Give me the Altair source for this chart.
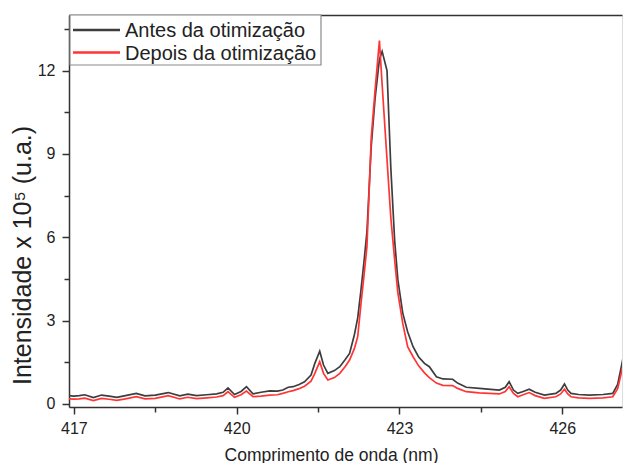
import altair as alt
import pandas as pd

wavelength = [416.9, 417.0, 417.1, 417.2, 417.36, 417.51, 417.65, 417.79, 417.95, 418.15,
              418.31, 418.5, 418.74, 418.95, 419.1, 419.26, 419.45, 419.63, 419.75, 419.84,
              419.96, 420.08, 420.18, 420.3, 420.45, 420.61, 420.75, 420.85, 420.95, 421.04,
              421.15, 421.25, 421.37, 421.44, 421.53, 421.6, 421.68, 421.8, 421.9, 422.0,
              422.08, 422.17, 422.23, 422.29, 422.35, 422.4, 422.48, 422.55, 422.63, 422.68,
              422.77, 422.84, 422.91, 422.97, 423.06, 423.15, 423.25, 423.35, 423.46, 423.55,
              423.68, 423.8, 423.98, 424.07, 424.23, 424.47, 424.84, 424.95, 425.02, 425.1,
              425.18, 425.28, 425.39, 425.5, 425.67, 425.88, 425.97, 426.04, 426.1, 426.16,
              426.3, 426.5, 426.75, 426.93, 427.02, 427.1, 427.2]

antes = [0.3, 0.28, 0.3, 0.33, 0.23, 0.32, 0.28, 0.24, 0.3, 0.38,
         0.29, 0.32, 0.41, 0.29, 0.35, 0.3, 0.33, 0.36, 0.42, 0.58,
         0.34, 0.45, 0.62, 0.36, 0.42, 0.47, 0.46, 0.5, 0.6, 0.62,
         0.7, 0.8, 1.04, 1.46, 1.9, 1.4, 1.1, 1.2, 1.34, 1.6,
         1.82, 2.5, 3.1, 4.1, 5.2, 6.2, 9.3, 11.0, 12.4, 12.69,
         12.0, 8.5, 5.9, 4.47, 3.27, 2.6, 2.06, 1.7, 1.46, 1.34,
         0.98, 0.9, 0.89, 0.75, 0.6, 0.56, 0.5, 0.6, 0.8, 0.5,
         0.38, 0.45, 0.53, 0.42, 0.32, 0.38, 0.5, 0.72, 0.5, 0.38,
         0.34, 0.32, 0.34, 0.38, 0.7, 1.46, 2.5]

depois = [0.18, 0.17, 0.18, 0.21, 0.12, 0.2, 0.17, 0.13, 0.18, 0.26,
          0.18, 0.2, 0.3, 0.18, 0.24, 0.19, 0.22, 0.25, 0.3, 0.44,
          0.24, 0.33, 0.46, 0.26, 0.28, 0.32, 0.33, 0.38, 0.44, 0.48,
          0.55, 0.64, 0.82, 1.1, 1.52, 1.1, 0.86, 0.95, 1.1, 1.35,
          1.58, 2.0, 2.42, 3.6, 4.7, 5.66, 9.6, 11.3, 13.08, 11.5,
          8.8, 6.7, 5.2, 4.0, 2.9, 2.06, 1.7, 1.38, 1.12, 0.95,
          0.75, 0.67, 0.66, 0.56, 0.44, 0.4, 0.36, 0.45, 0.62, 0.38,
          0.26, 0.33, 0.41, 0.3, 0.2, 0.26, 0.36, 0.53, 0.36, 0.26,
          0.22, 0.2, 0.22, 0.26, 0.55, 1.22, 2.2]

series_names = ["Antes da otimização", "Depois da otimização"]
series_colors = ["#3d3d3d", "#ff3535"]

x_major = [417, 420, 423, 426]
x_minor = [418.5, 421.5, 424.5]
y_major = [0, 3, 6, 9, 12]
y_minor = [1.5, 4.5, 7.5, 10.5, 13.5]

rows = []
for name, vals in zip(series_names, [antes, depois]):
    for w, v in zip(wavelength, vals):
        rows.append({"w": w, "v": v, "s": name})
df = pd.DataFrame(rows)

FONT = "Liberation Sans"
xscale = alt.Scale(domain=[416.91, 427.1], nice=False, zero=False)
yscale = alt.Scale(domain=[-0.11, 14.0], nice=False, zero=False)
AX = "#333333"

lines = alt.Chart(df).mark_line(strokeWidth=1.7, clip=True).encode(
    x=alt.X("w:Q", scale=xscale,
            axis=alt.Axis(values=x_major, format="d", title="Comprimento de onda (nm)",
                          orient="bottom", grid=False, tickSize=7, tickWidth=1.5,
                          tickColor=AX, domainColor=AX, domainWidth=1.5,
                          labelFontSize=16, labelFont=FONT, labelColor="#222",
                          labelPadding=6, titleFont=FONT, titleFontSize=17.5,
                          titleFontWeight="normal", titleColor="#222",
                          titleX=262, titleY=53, titleBaseline="alphabetic",
                          titleAlign="center")),
    y=alt.Y("v:Q", scale=yscale,
            axis=alt.Axis(values=y_major, format="d", title="Intensidade x 10⁵ (u.a.)",
                          orient="left", grid=False, tickSize=7, tickWidth=1.5,
                          tickColor=AX, domainColor=AX, domainWidth=1.5,
                          labelFontSize=16, labelFont=FONT, labelColor="#222",
                          labelPadding=7, titleFont=FONT, titleFontSize=25,
                          titleFontWeight="normal", titleColor="#222",
                          titleAngle=270, titleX=-47, titleY=240,
                          titleBaseline="middle", titleAlign="center")),
    color=alt.Color("s:N", scale=alt.Scale(domain=series_names, range=series_colors),
                    legend=None),
    order=alt.Order("w:Q"),
)

minor = alt.Chart(df).mark_line(opacity=0).encode(
    x=alt.X("w:Q", scale=xscale,
            axis=alt.Axis(values=x_minor, labels=False, title=None, orient="bottom",
                          grid=False, domain=False, tickSize=5, tickWidth=1.5,
                          tickColor=AX)),
    y=alt.Y("v:Q", scale=yscale,
            axis=alt.Axis(values=y_minor, labels=False, title=None, orient="left",
                          grid=False, domain=False, tickSize=5, tickWidth=1.5,
                          tickColor=AX)),
)

topb = alt.Chart(df).mark_line(opacity=0).encode(
    x=alt.X("w:Q", scale=xscale,
            axis=alt.Axis(values=[], labels=False, ticks=False, title=None, orient="top",
                          grid=False, domain=True, domainColor=AX, domainWidth=1.5)),
    y=alt.Y("v:Q", scale=yscale, axis=None),
)

# legend box (drawn as a decoration, inside the plot area's top-left corner)
leg_box = alt.Chart(pd.DataFrame({"k": [0]})).mark_rect(
    fill="white", stroke="#8a8a8a", strokeWidth=1.2
).encode(x=alt.value(1), x2=alt.value(252), y=alt.value(0), y2=alt.value(50))

leg_layers = [leg_box]
for i, (name, col) in enumerate(zip(series_names, series_colors)):
    yy = 15 + i * 22.5
    leg_layers.append(
        alt.Chart(pd.DataFrame({"k": [0]})).mark_rule(color=col, strokeWidth=2.4)
        .encode(x=alt.value(4), x2=alt.value(51), y=alt.value(yy))
    )
    leg_layers.append(
        alt.Chart(pd.DataFrame({"k": [0]})).mark_text(
            align="left", baseline="middle", font=FONT, fontSize=20, color="#222", dy=1
        ).encode(x=alt.value(56), y=alt.value(yy), text=alt.value(name))
    )

chart = alt.layer(lines, minor, topb, *leg_layers).resolve_axis(
    x="independent", y="independent"
).properties(
    width=553, height=392,
    autosize=alt.AutoSizeParams(type="none"),
    padding={"left": 69, "top": 15, "right": 1, "bottom": 56},
).configure_view(stroke=None).configure(background="white")

chart.save("out.html", embed_options={"renderer": "svg", "actions": False})
